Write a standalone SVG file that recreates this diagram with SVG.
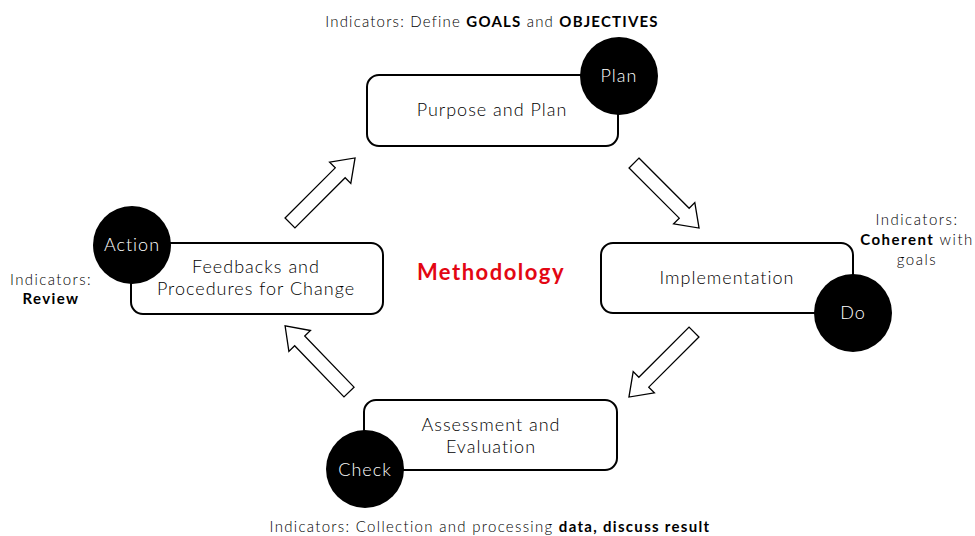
<svg xmlns="http://www.w3.org/2000/svg" width="975" height="536" viewBox="0 0 975 536">
<style>
.box{fill:#fff;stroke:#000;stroke-width:2}
.dot{fill:#000}
.t{font-family:Lato,"Open Sans","Liberation Sans",sans-serif;font-weight:300;font-size:18px;letter-spacing:1px;fill:#000;text-anchor:middle}
.w{fill:#fff}
.ind{font-family:Lato,"Open Sans","Liberation Sans",sans-serif;font-weight:300;font-size:15px;letter-spacing:1.2px;fill:#000;text-anchor:middle}
.b{font-weight:700}
.arr{fill:#fff;stroke:#000;stroke-width:1.3;stroke-linejoin:miter}
.title{font-family:Lato,"Open Sans","Liberation Sans",sans-serif;font-weight:700;font-size:22px;letter-spacing:1.5px;fill:#e30613;text-anchor:middle}
</style>
<defs>
<polygon id="ba" points="0,-7 71,-7 71,-15 92,0 71,15 71,7 0,7"/>
</defs>
<g id="connectors">
<use href="#ba" class="arr" transform="translate(290,223) rotate(-45)"/>
<use href="#ba" class="arr" transform="translate(634,163) rotate(45)"/>
<use href="#ba" class="arr" transform="translate(694,332) rotate(135)"/>
<use href="#ba" class="arr" transform="translate(349,392) rotate(-134)"/>
</g>
<g id="plan">
<rect class="box" x="367" y="75" width="251" height="71" rx="12"/>
<circle class="dot" cx="619" cy="76" r="39"/>
<text class="t w" x="619" y="82">Plan</text>
<text class="t" x="492" y="116">Purpose and Plan</text>
<text class="ind" x="492" y="27">Indicators: Define <tspan class="b">GOALS</tspan> and <tspan class="b">OBJECTIVES</tspan></text>
</g>
<g id="do">
<rect class="box" x="601" y="243" width="252" height="70" rx="12"/>
<circle class="dot" cx="853" cy="313" r="39"/>
<text class="t w" x="853" y="319">Do</text>
<text class="t" x="727" y="284">Implementation</text>
<text class="ind" x="917" y="225" style="letter-spacing:1.5px">Indicators:<tspan x="917" dy="20"><tspan class="b">Coherent</tspan> with</tspan><tspan x="917" dy="20">goals</tspan></text>
</g>
<g id="check">
<rect class="box" x="364" y="400" width="253" height="70" rx="12"/>
<circle class="dot" cx="365" cy="469" r="39"/>
<text class="t w" x="365" y="476">Check</text>
<text class="t" x="491" y="431">Assessment and<tspan x="491" dy="22">Evaluation</tspan></text>
<text class="ind" x="490" y="532" style="letter-spacing:1.3px">Indicators: Collection and processing <tspan class="b">data, discuss result</tspan></text>
</g>
<g id="action">
<rect class="box" x="131" y="243" width="252" height="71" rx="12"/>
<circle class="dot" cx="132" cy="245" r="39"/>
<text class="t w" x="132" y="251">Action</text>
<text class="t" x="256" y="273">Feedbacks and<tspan x="256" dy="22">Procedures for Change</tspan></text>
<text class="ind" x="51" y="285" style="letter-spacing:1.4px">Indicators:<tspan class="b" x="51" dy="18.5">Review</tspan></text>
</g>
<g id="center">
<text class="title" x="491" y="280">Methodology</text>
</g>
</svg>
